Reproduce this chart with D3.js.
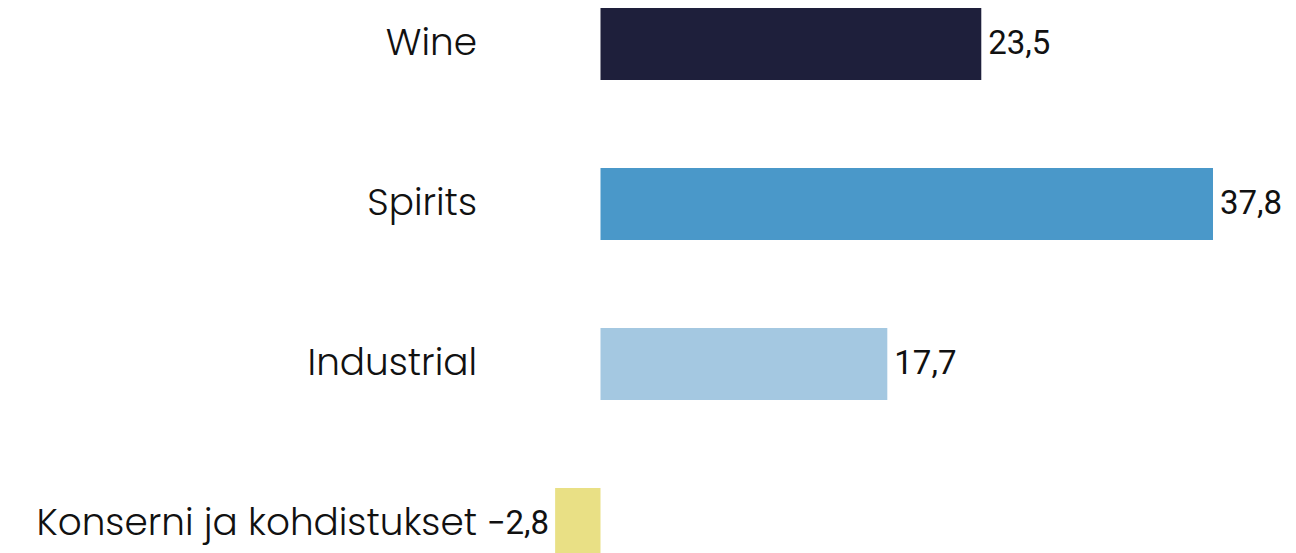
<!DOCTYPE html>
<html>
<head>
<meta charset="utf-8">
<script src="https://cdn.jsdelivr.net/npm/d3@7"></script>
<style>
    body { margin: 0; background: #fff; }
    .cat-label { font-family: Poppins, "Noto Sans", sans-serif; font-weight: 300; font-size: 37.4px; fill: #111; }
    .val-label { font-family: Roboto, sans-serif; font-size: 33px; fill: #111; }
</style>
</head>
<body>
<div id="chart"></div>
<script>
// chart data
const categories = ["Wine", "Spirits", "Industrial", "Konserni ja kohdistukset"];
const values = [23.5, 37.8, 17.7, -2.8];
const valueLabels = ["23,5", "37,8", "17,7", "\u22122,8"];
const barColors = ["#1e1f3b", "#4a98c9", "#a4c8e1", "#e9e085"];

let width = 1296, height = 553;

let svg = d3.select("#chart").append("svg")
    .attr("width", width)
    .attr("height", height);

// x scale: zero sits around x=600
let x = d3.scaleLinear()
    .domain([0, 37.8])
    .range([600.5, 1213]);

let y = d3.scaleBand()
    .domain(categories)
    .range([-36, 604])
    .paddingInner(0.55)
    .paddingOuter(0.275);

let data = categories.map((c, i) => ({cat: c, value: values[i], label: valueLabels[i], color: barColors[i]}));

// bars
svg.selectAll(".bar")
    .data(data)
    .enter().append("rect")
    .attr("class", "bar")
    .attr("x", d => Math.min(x(0), x(d.value)))
    .attr("y", d => y(d.cat))
    .attr("width", d => Math.abs(x(d.value) - x(0)))
    .attr("height", y.bandwidth())
    .attr("fill", d => d.color);

// category labels
svg.selectAll(".cat-label")
    .data(data)
    .enter().append("text")
    .attr("class", "cat-label")
    .attr("x", 477)
    .attr("y", d => y(d.cat) + y.bandwidth() / 2 - 2)
    .attr("dy", "0.35em")
    .attr("text-anchor", "end")
    .text(d => d.cat);

// value labels
svg.selectAll(".val-label")
    .data(data)
    .enter().append("text")
    .attr("class", "val-label")
    .attr("x", d => d.value >= 0 ? x(d.value) + 7 : x(d.value) - 6)
    .attr("y", d => y(d.cat) + y.bandwidth() / 2 - 2)
    .attr("dy", "0.35em")
    .attr("text-anchor", d => d.value >= 0 ? "start" : "end")
    .text(d => d.label);
</script>
</body>
</html>
